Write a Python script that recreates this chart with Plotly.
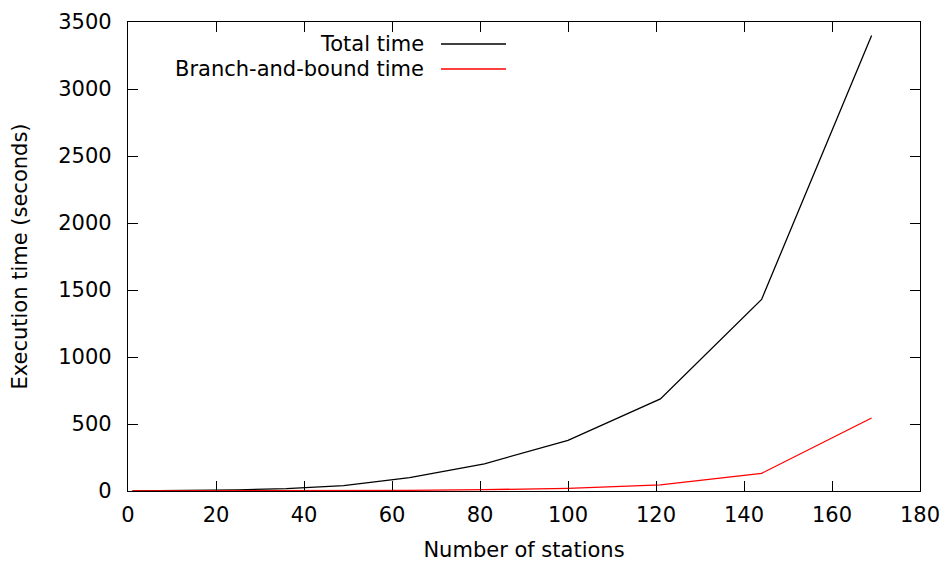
import plotly.graph_objects as go

stations = [1, 4, 9, 16, 25, 36, 49, 64, 81, 100, 121, 144, 169]
total_time = [0, 0.5, 1.5, 4, 9, 18, 40, 100, 203, 378, 687, 1430, 3400]
bb_time = [0, 0, 0.1, 0.2, 0.5, 1, 2.5, 5, 10, 20, 46, 132, 545]

FONT = "DejaVu Sans"
FS = 21

fig = go.Figure()
fig.add_trace(go.Scatter(x=stations, y=total_time, mode="lines",
                         line=dict(color="black", width=1.3), name="Total time"))
fig.add_trace(go.Scatter(x=stations, y=bb_time, mode="lines",
                         line=dict(color="red", width=1.3), name="Branch-and-bound time"))

axis_common = dict(showgrid=False, zeroline=False, showline=True, linecolor="black",
                   linewidth=1.3, mirror="ticks", ticks="inside", ticklen=10,
                   tickcolor="black", tickwidth=1, automargin=False,
                   tickfont=dict(family=FONT, size=FS, color="black"))

fig.update_xaxes(range=[0, 180], dtick=20, tick0=0, ticklabelstandoff=5,
                 title=dict(text="Number of stations", font=dict(family=FONT, size=FS, color="black"),
                            standoff=16),
                 **axis_common)
fig.update_yaxes(range=[0, 3500], dtick=500, tick0=0, ticklabelstandoff=11,
                 title=dict(text="Execution time (seconds)", font=dict(family=FONT, size=FS, color="black"),
                            standoff=24),
                 **axis_common)

# gnuplot-style key: text right-aligned, sample line to its right
legend_items = [("Total time", "black", 0.9531), ("Branch-and-bound time", "red", 0.8998)]
for text, color, yp in legend_items:
    fig.add_annotation(xref="paper", yref="paper", x=0.3763, y=yp, text=text,
                       showarrow=False, xanchor="right", yanchor="middle",
                       font=dict(family=FONT, size=FS, color="black"))
    fig.add_shape(type="line", xref="paper", yref="paper", x0=0.3952, x1=0.4773,
                  y0=yp, y1=yp, line=dict(color=color, width=1.3))

fig.update_layout(width=945, height=562, showlegend=False,
                  margin=dict(l=128, r=25, t=22, b=71),
                  paper_bgcolor="white", plot_bgcolor="white",
                  font=dict(family=FONT, size=FS, color="black"))

fig.write_html("out.html", config={"displayModeBar": False},
               post_script="document.body.style.margin='0';")
